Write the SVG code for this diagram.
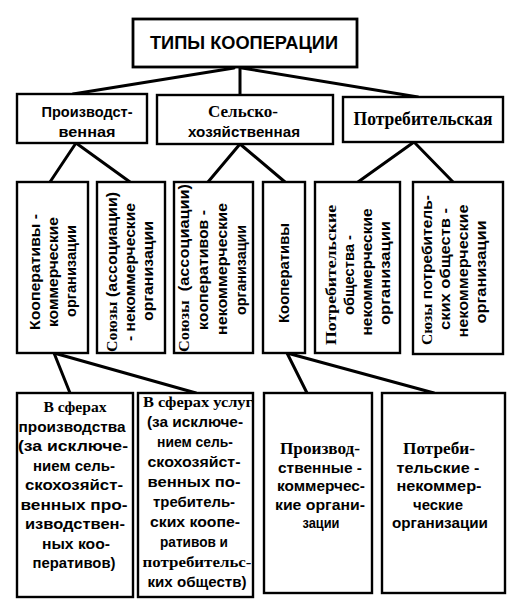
<svg xmlns="http://www.w3.org/2000/svg" width="516" height="610" viewBox="0 0 516 610">
<style>
rect{fill:#fff;stroke:#000;stroke-width:2.4}
line{stroke:#000;stroke-width:3;stroke-linecap:round}
text{font-family:"Liberation Sans",Arial,sans-serif;font-weight:bold;font-size:15px;text-anchor:middle;fill:#000}
.r{font-family:"Liberation Serif","Times New Roman",serif;font-weight:bold}
</style>
<rect x="0" y="0" width="516" height="610" style="stroke:none"/>
<g id="connectors">
<line x1="234" y1="68" x2="73" y2="94"/>
<line x1="240" y1="68" x2="240" y2="95"/>
<line x1="242" y1="68" x2="418" y2="97"/>
<line x1="76" y1="143" x2="50" y2="182"/>
<line x1="76" y1="143" x2="130" y2="182"/>
<line x1="240" y1="144" x2="208" y2="182"/>
<line x1="240" y1="144" x2="285" y2="182"/>
<line x1="414" y1="142" x2="358" y2="182"/>
<line x1="414" y1="142" x2="453" y2="182"/>
<line x1="54" y1="353" x2="70" y2="393"/>
<line x1="54" y1="353" x2="196" y2="393"/>
<line x1="287" y1="353" x2="307" y2="393"/>
<line x1="287" y1="353" x2="434" y2="393"/>
</g>
<g id="title">
<rect x="133" y="19" width="224" height="48" style="stroke-width:2.8"/>
<text x="244" y="49" style="font-size:17.5px" textLength="188" lengthAdjust="spacingAndGlyphs">ТИПЫ КООПЕРАЦИИ</text>
</g>
<g id="proizv">
<rect x="17" y="94" width="130" height="49"/>
<text x="87" y="117" style="font-size:14.5px" textLength="91" lengthAdjust="spacingAndGlyphs">Производст-</text>
<text x="87" y="137" style="font-size:14.5px" textLength="57" lengthAdjust="spacingAndGlyphs">венная</text>
</g>
<g id="selsko">
<rect x="157" y="95" width="176" height="49"/>
<text x="243" y="117" class="r" style="font-size:17px" textLength="70" lengthAdjust="spacingAndGlyphs">Сельско-</text>
<text x="244" y="137" style="font-size:14.5px" textLength="112" lengthAdjust="spacingAndGlyphs">хозяйственная</text>
</g>
<g id="potreb">
<rect x="343" y="97" width="160" height="45"/>
<text x="423" y="125" class="r" style="font-size:18px" textLength="139" lengthAdjust="spacingAndGlyphs">Потребительская</text>
</g>
<g id="coop-komm">
<rect x="17" y="182" width="71" height="171"/>
<text transform="translate(40,272) rotate(-90)" textLength="116" lengthAdjust="spacingAndGlyphs">Кооперативы -</text>
<text transform="translate(58,272) rotate(-90)" textLength="110" lengthAdjust="spacingAndGlyphs">коммерческие</text>
<text transform="translate(76,271) rotate(-90)" textLength="92" lengthAdjust="spacingAndGlyphs">организации</text>
</g>
<g id="soyuzy">
<rect x="97" y="182" width="68" height="171"/>
<text transform="translate(117,272) rotate(-90)" textLength="160" lengthAdjust="spacingAndGlyphs"><tspan class="r">Союзы</tspan> (ассоциации)</text>
<text transform="translate(135,272) rotate(-90)" textLength="138" lengthAdjust="spacingAndGlyphs">- некоммерческие</text>
<text transform="translate(153,271) rotate(-90)" textLength="100" lengthAdjust="spacingAndGlyphs">организации</text>
</g>
<g id="soyuzy-coop">
<rect x="174" y="182" width="79" height="171"/>
<text transform="translate(189,268) rotate(-90)" textLength="168" lengthAdjust="spacingAndGlyphs" xml:space="preserve"><tspan class="r">Союзы</tspan>  (ассоциации)</text>
<text transform="translate(208,270) rotate(-90)" textLength="120" lengthAdjust="spacingAndGlyphs">кооперативов -</text>
<text transform="translate(227,269) rotate(-90)" textLength="132" lengthAdjust="spacingAndGlyphs">некоммерческие</text>
<text transform="translate(246,270) rotate(-90)" textLength="90" lengthAdjust="spacingAndGlyphs">организации</text>
</g>
<g id="coop">
<rect x="263" y="182" width="42" height="171"/>
<text transform="translate(289,273) rotate(-90)" textLength="100" lengthAdjust="spacingAndGlyphs">Кооперативы</text>
</g>
<g id="potreb-obsh">
<rect x="315" y="182" width="85" height="171"/>
<text transform="translate(336,275) rotate(-90)" class="r" textLength="140" lengthAdjust="spacingAndGlyphs">Потребительские</text>
<text transform="translate(354,275) rotate(-90)" textLength="80" lengthAdjust="spacingAndGlyphs">общества -</text>
<text transform="translate(372,272) rotate(-90)" textLength="127" lengthAdjust="spacingAndGlyphs">некоммерческие</text>
<text transform="translate(390,273) rotate(-90)" textLength="104" lengthAdjust="spacingAndGlyphs">организации</text>
</g>
<g id="soyuzy-potreb">
<rect x="413" y="182" width="90" height="172"/>
<text transform="translate(432,270) rotate(-90)" textLength="150" lengthAdjust="spacingAndGlyphs"><tspan class="r">Сюзы</tspan> потребитель-</text>
<text transform="translate(450,269) rotate(-90)" textLength="122" lengthAdjust="spacingAndGlyphs">ских обществ -</text>
<text transform="translate(468,271) rotate(-90)" textLength="133" lengthAdjust="spacingAndGlyphs">некоммерческие</text>
<text transform="translate(486,272) rotate(-90)" textLength="103" lengthAdjust="spacingAndGlyphs">организации</text>
</g>
<g id="sfera-proizv">
<rect x="17" y="393" width="116" height="204"/>
<text x="75" y="412" class="r" textLength="63" lengthAdjust="spacingAndGlyphs">В сферах</text>
<text x="72" y="431.5" textLength="107" lengthAdjust="spacingAndGlyphs">производства</text>
<text x="73" y="451" textLength="110" lengthAdjust="spacingAndGlyphs">(за исключе-</text>
<text x="74" y="470.5" textLength="82" lengthAdjust="spacingAndGlyphs">нием сель-</text>
<text x="74" y="490" textLength="98" lengthAdjust="spacingAndGlyphs">скохозяйст-</text>
<text x="74" y="509.5" textLength="107" lengthAdjust="spacingAndGlyphs">венных про-</text>
<text x="75" y="529" textLength="100" lengthAdjust="spacingAndGlyphs">изводствен-</text>
<text x="76" y="548.5" textLength="68" lengthAdjust="spacingAndGlyphs">ных коо-</text>
<text x="74" y="568" textLength="83" lengthAdjust="spacingAndGlyphs">перативов)</text>
</g>
<g id="sfera-uslug">
<rect x="138" y="393" width="115" height="204"/>
<text x="198" y="407" class="r" textLength="110" lengthAdjust="spacingAndGlyphs">В сферах услуг</text>
<text x="195" y="427" textLength="96" lengthAdjust="spacingAndGlyphs">(за исключе-</text>
<text x="195" y="447" textLength="76" lengthAdjust="spacingAndGlyphs">нием сель-</text>
<text x="194" y="467" textLength="93" lengthAdjust="spacingAndGlyphs">скохозяйст-</text>
<text x="194" y="487" textLength="93" lengthAdjust="spacingAndGlyphs">венных по-</text>
<text x="194" y="507" textLength="82" lengthAdjust="spacingAndGlyphs">требитель-</text>
<text x="195" y="527" textLength="90" lengthAdjust="spacingAndGlyphs">ских коопе-</text>
<text x="194" y="547" textLength="68" lengthAdjust="spacingAndGlyphs">ративов и</text>
<text x="197" y="567" class="r" textLength="109" lengthAdjust="spacingAndGlyphs">потребительс-</text>
<text x="197" y="587" textLength="99" lengthAdjust="spacingAndGlyphs">ких обществ)</text>
</g>
<g id="proizv-komm">
<rect x="264" y="393" width="108" height="200"/>
<text x="320" y="454" class="r" style="font-size:16px" textLength="80" lengthAdjust="spacingAndGlyphs">Производ-</text>
<text x="320" y="472.5" textLength="84" lengthAdjust="spacingAndGlyphs">ственные -</text>
<text x="321" y="491" textLength="88" lengthAdjust="spacingAndGlyphs">коммерчес-</text>
<text x="320" y="509.5" textLength="90" lengthAdjust="spacingAndGlyphs">кие органи-</text>
<text x="321" y="528" textLength="37" lengthAdjust="spacingAndGlyphs">зации</text>
</g>
<g id="potreb-nekomm">
<rect x="382" y="393" width="123" height="200"/>
<text x="439" y="454" class="r" style="font-size:16px" textLength="72" lengthAdjust="spacingAndGlyphs">Потреби-</text>
<text x="438" y="472.5" textLength="83" lengthAdjust="spacingAndGlyphs">тельские -</text>
<text x="439" y="491" textLength="85" lengthAdjust="spacingAndGlyphs">некоммер-</text>
<text x="438" y="509.5" textLength="50" lengthAdjust="spacingAndGlyphs">ческие</text>
<text x="440" y="528" textLength="96" lengthAdjust="spacingAndGlyphs">организации</text>
</g>
</svg>
